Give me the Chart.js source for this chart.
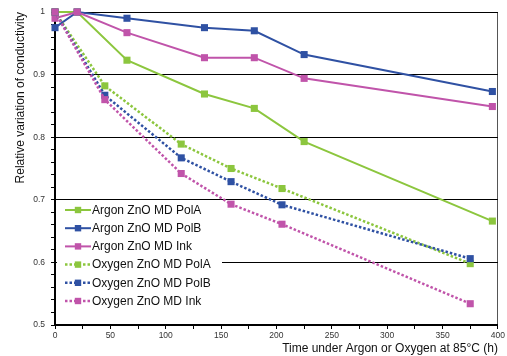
<!DOCTYPE html>
<html>
<head>
<meta charset="utf-8">
<script src="https://cdn.jsdelivr.net/npm/chart.js@4.4.1/dist/chart.umd.min.js"></script>
<style>
  html, body { margin: 0; padding: 0; background: #fff; }
  #wrap { width: 507px; height: 356px; }
</style>
</head>
<body>
<div id="wrap"><canvas id="chart" width="507" height="356"></canvas></div>
<script>
// hours of exposure
const argonHours = [0, 20, 65, 135, 180, 225, 395];
const oxygenHours = [0, 45, 114, 159, 205, 375];

// relative variation of conductivity
const argonPolA = [1.0, 1.0, 0.923, 0.869, 0.846, 0.793, 0.666];
const argonPolB = [0.975, 1.0, 0.990, 0.975, 0.970, 0.932, 0.873];
const argonInk = [0.99, 1.0, 0.967, 0.927, 0.927, 0.894, 0.849];
const oxygenPolA = [1.0, 0.882, 0.789, 0.750, 0.718, 0.598];
const oxygenPolB = [1.0, 0.867, 0.767, 0.729, 0.692, 0.606];
const oxygenInk = [1.0, 0.860, 0.742, 0.693, 0.661, 0.534];

const seriesNames = ['Argon ZnO MD PolA', 'Argon ZnO MD PolB', 'Argon ZnO MD Ink',
                     'Oxygen ZnO MD PolA', 'Oxygen ZnO MD PolB', 'Oxygen ZnO MD Ink'];

const green = '#8cc63e', blue = '#2f51a3', pink = '#c054aa';

const toPoints = (xs, ys) => xs.map((x, i) => ({x: x, y: ys[i]}));

const makeSet = (i, xs, ys, color, dotted) => ({
  label: seriesNames[i],
  data: toPoints(xs, ys),
  borderColor: color,
  backgroundColor: color,
  borderWidth: dotted ? 2.5 : 2,
  borderDash: dotted ? [2.5, 2] : [],
  pointStyle: 'rect',
  pointRadius: 5,
  pointBorderWidth: 0,
  pointBackgroundColor: color,
  tension: 0,
  clip: false,
  order: 6 - i,
  dotted: dotted
});

const datasets = [
  makeSet(0, argonHours, argonPolA, green, false),
  makeSet(1, argonHours, argonPolB, blue, false),
  makeSet(2, argonHours, argonInk, pink, false),
  makeSet(3, oxygenHours, oxygenPolA, green, true),
  makeSet(4, oxygenHours, oxygenPolB, blue, true),
  makeSet(5, oxygenHours, oxygenInk, pink, true)
];

const isMajorY = v => Math.abs(v * 10 - Math.round(v * 10)) < 1e-6;
const isMajorX = v => Math.abs(v % 50) < 1e-6;

// legend drawn inside the plot, bottom left
const insideLegend = {
  id: 'insideLegend',
  beforeDatasetsDraw(chart) {
    const ctx = chart.ctx;
    ctx.save();
    ctx.fillStyle = '#fff';
    ctx.fillRect(57, 202, 165, 110);
    chart.data.datasets.forEach((ds, i) => {
      const y = 210 + i * 18.2;
      ctx.strokeStyle = ds.borderColor;
      ctx.lineWidth = ds.borderWidth;
      ctx.setLineDash(ds.borderDash);
      ctx.beginPath();
      ctx.moveTo(65, y);
      ctx.lineTo(91, y);
      ctx.stroke();
      ctx.setLineDash([]);
      ctx.fillStyle = ds.borderColor;
      ctx.fillRect(78 - 3.2, y - 3.2, 6.4, 6.4);
      ctx.fillStyle = '#111';
      ctx.font = '12px "Liberation Sans", Arial, sans-serif';
      ctx.textBaseline = 'middle';
      ctx.textAlign = 'left';
      ctx.fillText(ds.label, 92, y + 0.5);
    });
    ctx.restore();
  }
};

Chart.defaults.font.family = '"Liberation Sans", Arial, sans-serif';

new Chart(document.getElementById('chart').getContext('2d'), {
  type: 'line',
  data: { datasets: datasets },
  plugins: [insideLegend],
  options: {
    responsive: false,
    animation: false,
    events: [],
    layout: { padding: { top: 12, right: 9, left: 0, bottom: 0 } },
    plugins: { legend: { display: false }, tooltip: { enabled: false } },
    scales: {
      x: {
        type: 'linear',
        min: 0,
        max: 400,
        afterFit: s => { s.height = 31; },
        ticks: {
          stepSize: 25,
          autoSkip: false,
          maxRotation: 0,
          padding: 2,
          color: '#333',
          font: { size: 8.5 },
          callback: v => isMajorX(v) ? String(v) : ''
        },
        grid: {
          color: c => (c.tick && c.tick.value === 400) ? '#555' : 'rgba(0,0,0,0)',
          tickColor: '#000',
          tickLength: 4,
          lineWidth: 1
        },
        border: { color: '#000', width: 2 },
        title: {
          display: true,
          text: 'Time under Argon or Oxygen at 85°C (h)',
          align: 'end',
          color: '#111',
          font: { size: 12 },
          padding: { top: 0, bottom: 0 }
        }
      },
      y: {
        min: 0.5,
        max: 1,
        afterFit: s => { s.width = 55; },
        ticks: {
          stepSize: 0.02,
          autoSkip: false,
          padding: 6,
          color: '#333',
          font: { size: 8.5 },
          callback: v => isMajorY(v) ? String(Math.round(v * 10) / 10) : ''
        },
        grid: {
          color: c => (c.tick && isMajorY(c.tick.value)) ? '#000' : 'rgba(0,0,0,0)',
          tickColor: '#000',
          tickLength: 4,
          lineWidth: 1
        },
        border: { color: '#000', width: 2 },
        title: {
          display: true,
          text: 'Relative variation of conductivity',
          align: 'end',
          color: '#111',
          font: { size: 12 },
          padding: { top: 13, bottom: 0 }
        }
      }
    }
  }
});
</script>
</body>
</html>
